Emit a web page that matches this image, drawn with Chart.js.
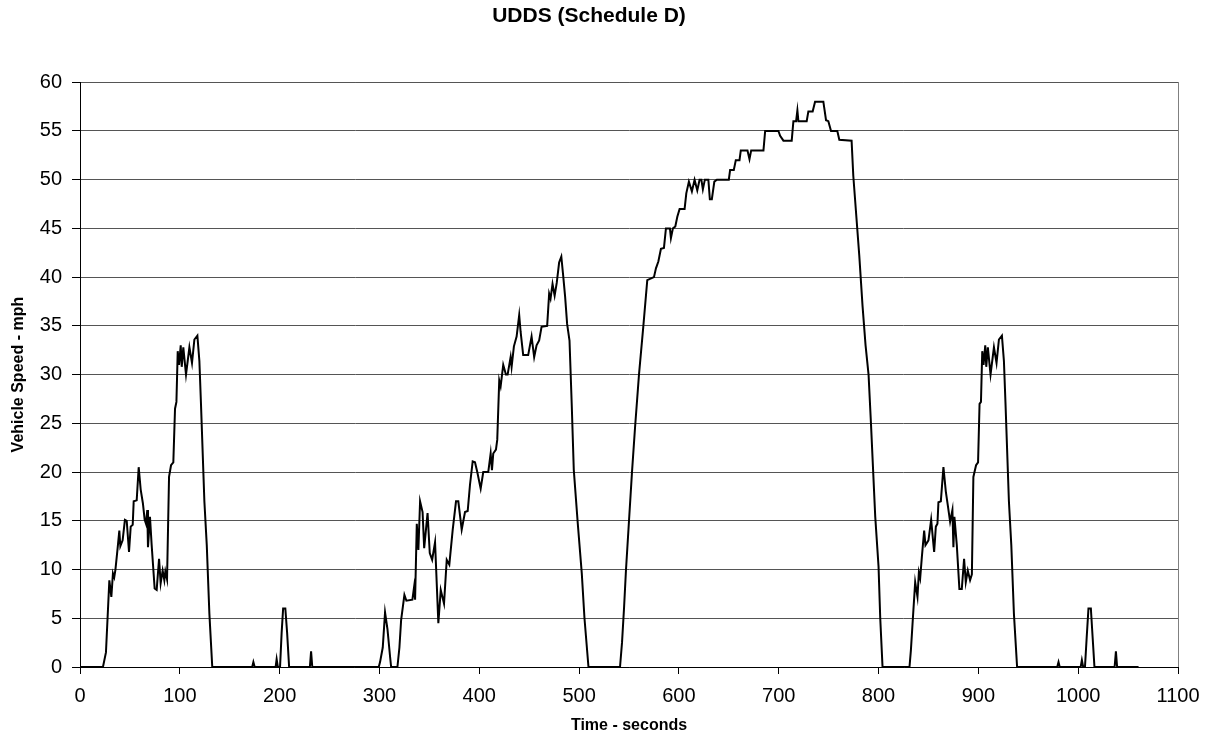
<!DOCTYPE html>
<html>
<head>
<meta charset="utf-8">
<title>UDDS (Schedule D)</title>
<script src="https://cdn.jsdelivr.net/npm/chart.js@4/dist/chart.umd.min.js"></script>
<style>
  html, body { margin: 0; padding: 0; background: #fff; }
  #wrap { width: 1211px; height: 740px; }
</style>
</head>
<body>
<div id="wrap"><canvas id="cycleChart"></canvas></div>
<script>
// time (s) and speed (mph)
const timeSec = [
  0, 23, 26, 29.4, 31.4, 33, 34.3, 35.5, 37.7, 39.4, 40.4, 42.7, 45, 46.8, 49.1, 50.8, 52.8, 53.8, 56.8, 58.8,
  60.8, 63, 64.8, 66.1, 67.4, 68.1, 70.1, 71.8, 72.8, 74.8, 76.8, 79.2, 80.8, 82.8, 84.5, 85.5, 87.2, 89.2, 91.2, 93.5,
  95.2, 96.6, 97.9, 99.2, 100.9, 101.9, 103.5, 106.2, 109.6, 112.2, 114.6, 117.6, 119.6, 121.2, 124.6, 127, 129.6, 132.5,
  172.5, 173.7, 175, 196, 197, 198.2, 200.4, 202, 203.5, 205.7, 207.5, 209.5, 230.3, 231.5, 232.7,
  299.3, 300.6, 303.3, 305.6, 308, 310.7, 311.7, 318, 320, 321.7, 325, 327, 333, 334.7, 335.7, 337.4, 339, 340.7,
  343.2, 344.8, 348.2, 350.4, 352.8, 355.7, 359, 361.4, 364.7, 367.4, 370, 373.4, 376.7, 379, 382.4, 385.7, 388.4,
  390.7, 393.4, 395.7, 398, 401.4, 404, 409, 411.4, 412.7, 414, 416.7, 418, 420, 421.4, 424, 426.7, 428.4, 431.4,
  432.4, 434.7, 437.4, 440, 441.4, 444, 449, 452.4, 455, 457.4, 460, 462.4, 468, 470, 471.4, 473.4, 475.5, 477.6,
  480, 482.2, 484.2, 486, 488, 490.4, 492.7, 494.7, 498.7, 502.7, 505.4, 509.4,
  541, 543, 545, 547, 550, 553, 556, 560, 564.3, 568.3, 575, 577, 579.4, 582, 585, 587, 591, 592, 594, 596.4,
  598.4, 600.7, 605.7, 607.4, 610, 613, 615.7, 618.4, 620.7, 622.5, 624, 626, 629.5, 631, 633, 635.5, 638, 650,
  651.3, 655, 657, 660.7, 662, 668.7, 670.7, 672.4, 684.7, 686.4, 699.7, 701.4, 704.7, 713, 714.7, 717.4, 718.7,
  719.7, 728, 729.7, 734, 736.4, 744.7, 747.4, 749.7, 752.4, 758.7, 760.7, 773, 774.7, 780.7, 784, 787, 790,
  792.4, 796.7, 800, 801.7, 804,
  831, 832.4, 834.4, 836.7, 839, 840.4, 841.7, 843.4, 845.7, 847, 850, 852.7, 855.7, 857.4, 859, 860, 862.4, 865,
  867.4, 869.5, 871.7, 874, 875, 876, 878.4, 881, 883.4, 885.7, 887.4, 889.4, 891.7, 893.5, 895, 897.7, 899.7, 901.2,
  902.6, 903.9, 905.2, 906.9, 907.9, 909.5, 912.2, 915.6, 918.2, 920.6, 923.6, 925.6, 927.2, 930.6, 933, 935.6, 938.8,
  979, 980.3, 981.5, 1002.5, 1003.7, 1005, 1006.8, 1008.5, 1010.3, 1012.7, 1014.5, 1016.3, 1036.5, 1037.8, 1039, 1060.5
];

const speedMph = [
  0, 0, 1.5, 8.9, 7.2, 9.6, 9.2, 10, 12.2, 14, 12.4, 13, 15.1, 15, 11.8, 14.4, 14.6, 17, 17.1, 20.5,
  18.2, 16.8, 15.1, 14.7, 16.1, 12.3, 15.4, 12.5, 11, 8.05, 7.9, 11.1, 8.6, 9.9, 8.9, 9.8, 9, 19.5, 20.7, 21,
  26.5, 27.2, 32.4, 31, 33, 30.8, 32.8, 30, 32.8, 31.2, 33.6, 34, 31.4, 27, 17, 12.5, 5.5, 0,
  0, 0.5, 0, 0, 0.8, 0, 0, 3.5, 6, 6, 3.5, 0, 0, 1.6, 0,
  0, 0.5, 2, 5.6, 3.9, 1, 0, 0, 2, 4.8, 7.4, 6.8, 6.9, 8.2, 6.9, 14.7, 12, 17,
  15.9, 12.2, 15.8, 11.7, 11, 12.8, 4.5, 7.9, 6.5, 11, 10.5, 14.1, 17, 17, 14.1, 15.9, 16,
  18.7, 21.1, 21, 20, 18.3, 20, 20, 21.9, 20.2, 21.9, 22.3, 23.3, 29.4, 28.8, 31, 30, 30, 31.8,
  30.8, 32.9, 33.9, 36.1, 34.4, 32, 32, 33.9, 31.8, 33, 33.5, 34.9, 35, 38.3, 37.8, 39.3, 38.1, 39.4,
  41.5, 42.1, 40, 38, 35.2, 33.5, 26.7, 20.2, 14.7, 9.6, 5, 0,
  0, 2.5, 6, 10, 15, 20, 24.5, 30, 34.9, 39.7, 40, 40.9, 41.6, 42.9, 43, 45, 45, 44, 45, 45.2,
  46.2, 47, 47, 48.6, 49.8, 48.8, 50, 48.9, 50, 50, 49, 50, 50, 48, 48, 49.8, 50, 50,
  51, 51, 52, 52, 53, 53, 52.1, 53, 53, 55, 55, 54.5, 54, 54, 56, 56, 57.1,
  56, 56, 57, 57, 58, 58, 56.1, 56, 55, 55, 54.1, 54, 50.4, 42.2, 37, 33, 30,
  25, 15.4, 10.3, 5, 0,
  0, 1.7, 5, 8.7, 7.2, 9.7, 9.1, 11.3, 14, 12.5, 13, 15.1, 11.8, 14.4, 14.7, 16.9, 17, 20.5,
  18, 16.5, 14.9, 16.1, 12.3, 15.4, 12.5, 8, 8, 11.1, 8.7, 9.9, 8.9, 9.5, 19.5, 20.7, 21, 27,
  27.2, 32.4, 31, 33, 30.8, 32.8, 30, 32.8, 31.2, 33.6, 34, 31.4, 27, 17, 12.5, 5.5, 0,
  0, 0.5, 0, 0, 0.7, 0, 0, 3, 6, 6, 3, 0, 0, 1.6, 0, 0
];

const xTicks = { min: 0, max: 1100, step: 100 };
const yTicks = { min: 0, max: 60, step: 5 };

const points = timeSec.map((t, i) => ({ x: t, y: speedMph[i] }));

// plot area frame (Excel style)
const plotFrame = {
  id: 'plotFrame',
  beforeDraw(chart) {
    const { ctx, chartArea: a } = chart;
    ctx.save();
    ctx.strokeStyle = '#808080';
    ctx.lineWidth = 1;
    ctx.strokeRect(Math.round(a.left) + 0.5, Math.round(a.top) + 0.5,
      Math.round(a.right - a.left), Math.round(a.bottom - a.top));
    ctx.restore();
  }
};

Chart.defaults.font.family = '"Liberation Sans", Arial, sans-serif';
Chart.defaults.color = '#000';

new Chart(document.getElementById('cycleChart'), {
  type: 'line',
  data: {
    datasets: [{
      label: 'UDDS',
      data: points,
      borderColor: '#000',
      borderWidth: 2,
      pointRadius: 0,
      tension: 0,
      fill: false
    }]
  },
  options: {
    responsive: true,
    maintainAspectRatio: false,
    animation: false,
    layout: { padding: { left: 0, right: 33, top: 0, bottom: 0 } },
    plugins: {
      legend: { display: false },
      tooltip: { enabled: false },
      title: {
        display: true,
        text: 'UDDS (Schedule D)',
        font: { size: 21, weight: 'bold' },
        padding: { top: 4, bottom: 53 }
      }
    },
    scales: {
      x: {
        type: 'linear',
        min: xTicks.min,
        max: xTicks.max,
        afterFit(scale) { scale.height = 73; },
        ticks: {
          stepSize: xTicks.step, font: { size: 20 }, padding: 10, maxRotation: 0,
          callback: v => String(v)
        },
        grid: { drawOnChartArea: false, drawTicks: true, tickLength: 7, tickColor: '#000' },
        border: { display: true, color: '#000', width: 1 },
        title: {
          display: true,
          text: 'Time - seconds',
          font: { size: 16, weight: 'bold' },
          padding: { top: 0, bottom: 5 }
        }
      },
      y: {
        min: yTicks.min,
        max: yTicks.max,
        afterFit(scale) { scale.width = 80; },
        ticks: { stepSize: yTicks.step, font: { size: 20 }, padding: 10 },
        grid: { color: '#555', lineWidth: 1, tickLength: 8, tickColor: '#000' },
        border: { display: true, color: '#000', width: 1 },
        title: {
          display: true,
          text: 'Vehicle Speed - mph',
          font: { size: 16, weight: 'bold' },
          padding: { top: 9, bottom: 0 }
        }
      }
    }
  },
  plugins: [plotFrame]
});
</script>
</body>
</html>
